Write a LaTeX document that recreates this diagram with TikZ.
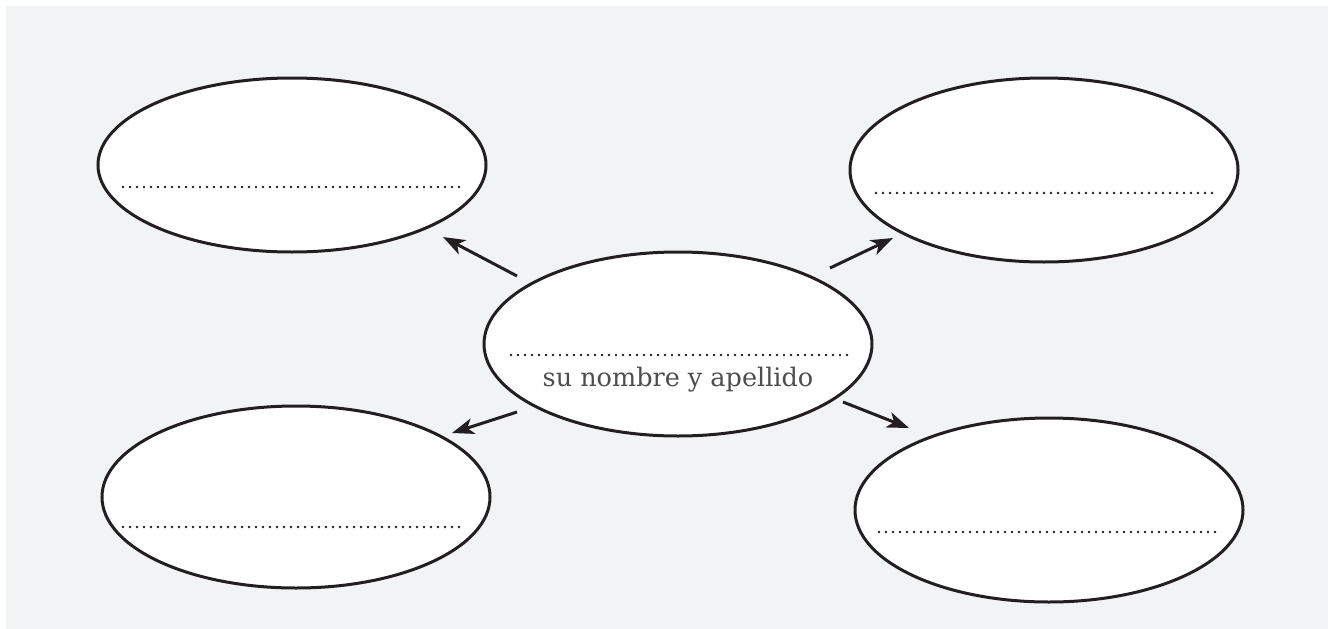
\documentclass[tikz,border=0pt]{standalone}
\usepackage{fontspec}
\usepackage{tikz}
\usetikzlibrary{shapes.geometric,arrows.meta}
\newfontfamily\labelfont{DejaVu Serif}
\definecolor{bggray}{HTML}{F2F3F5}
\definecolor{ink}{HTML}{231F20}
\definecolor{txtgray}{HTML}{4D4D4D}

\begin{document}
\begin{tikzpicture}[x=1pt,y=-1pt,
  bubble/.style={ellipse,draw=ink,line width=3pt,fill=white,minimum width=388pt,minimum height=184pt,inner sep=0pt},
  dotline/.style={ink,line width=2.7pt,line cap=round,dash pattern=on 0pt off 7pt},
  pointer/.style={ink,line width=3pt,-{Stealth[length=22pt,width=16pt,inset=6pt]}}]
\useasboundingbox (0,0) rectangle (1328,629);
\fill[bggray] (6,6) rectangle (1334,635);

% the five bubbles
\node[bubble,minimum height=174pt] (tl) at (292,165) {};
\node[bubble] (tr) at (1044,170) {};
\node[bubble] (me) at (678,344) {};
\node[bubble,minimum height=182pt] (bl) at (296,497) {};
\node[bubble] (br) at (1049,510) {};

% lines to write on
\draw[dotline] (123,187) -- (460,187);
\draw[dotline] (876,193) -- (1213,193);
\draw[dotline] (511,355) -- (848,355);
\draw[dotline] (123,527) -- (460,527);
\draw[dotline] (879,532) -- (1216,532);

\node[font=\labelfont\fontsize{25.5}{30}\selectfont,text=txtgray] (name) at (678,380) {su nombre y apellido};

% arrows out of the middle
\coordinate (tl from) at (517,276); \coordinate (tl to) at (443,237);
\coordinate (tr from) at (830,268); \coordinate (tr to) at (893,238);
\coordinate (bl from) at (517,412); \coordinate (bl to) at (452,433);
\coordinate (br from) at (843,402); \coordinate (br to) at (909,428);

\foreach \Side in {tl,tr,bl,br}{
    \draw[pointer] (\Side\space from) -- (\Side\space to);
}

\end{tikzpicture}
\end{document}
